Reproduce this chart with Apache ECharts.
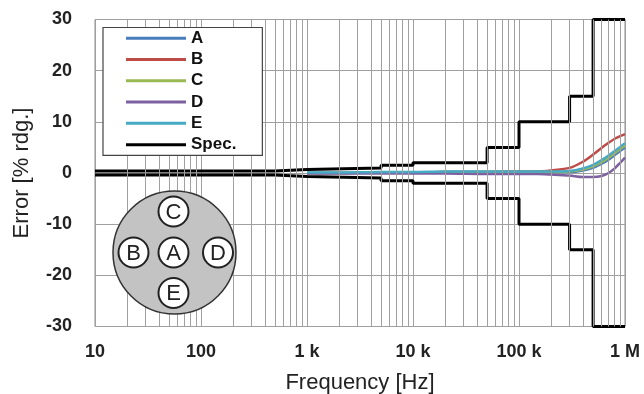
<!DOCTYPE html>
<html>
<head>
<meta charset="utf-8">
<script src="https://cdn.jsdelivr.net/npm/echarts@6/dist/echarts.min.js"></script>
<style>
html,body{margin:0;padding:0;background:#fff;}
#chart{width:644px;height:394px;}
</style>
</head>
<body>
<div id="chart"></div>
<script>
// ---- data ----
const frequencies = [1000, 2000, 5000, 10000, 20000, 50000, 100000, 150000, 200000, 300000, 400000, 500000, 600000, 700000, 800000, 900000, 1000000];
const seriesA = [0.0, 0.0, 0.1, 0.1, 0.2, 0.2, 0.2, 0.2, 0.2, 0.2, 0.5, 1.0, 1.8, 2.6, 3.5, 4.3, 5.0];
const seriesB = [0.0, 0.0, 0.1, 0.1, 0.2, 0.2, 0.3, 0.3, 0.5, 1.0, 2.2, 3.6, 4.9, 5.9, 6.7, 7.2, 7.6];
const seriesC = [0.0, 0.0, 0.1, 0.1, 0.2, 0.2, 0.2, 0.2, 0.2, 0.3, 0.7, 1.3, 2.1, 3.0, 3.9, 4.7, 5.4];
const seriesD = [-0.1, -0.1, -0.1, -0.1, -0.1, -0.2, -0.2, -0.2, -0.3, -0.5, -0.8, -0.8, -0.6, 0.0, 0.9, 2.0, 3.0];
const seriesE = [0.1, 0.1, 0.2, 0.2, 0.3, 0.3, 0.3, 0.3, 0.3, 0.4, 0.9, 1.6, 2.5, 3.4, 4.3, 5.1, 5.8];

const specFreq  = [10, 500, 500, 1000, 1000, 5000, 5000, 10000, 10000, 50000, 50000, 100000, 100000, 300000, 300000, 500000, 500000, 1000000];
const specUpper = [0.4, 0.4, 0.7, 0.7, 1, 1, 1.5, 1.5, 2, 2, 5, 5, 10, 10, 15, 15, 30, 30];
const specLower = [-0.4, -0.4, -0.7, -0.7, -1, -1, -1.5, -1.5, -2, -2, -5, -5, -10, -10, -15, -15, -30, -30];

const xTickValues = [10, 100, 1000, 10000, 100000, 1000000];
const xTickLabels = ['10', '100', '1 k', '10 k', '100 k', '1 M'];
const minorGridFreqs = [20, 30, 40, 50, 60, 70, 80, 90,
  200, 300, 400, 500, 600, 700, 800, 900,
  2000, 3000, 4000, 5000, 6000, 7000, 8000, 9000,
  20000, 30000, 40000, 50000, 60000, 70000, 80000, 90000,
  200000, 300000, 400000, 500000, 600000, 700000, 800000, 900000];

const seriesNames = ['A', 'B', 'C', 'D', 'E'];
const seriesColors = ['#4a7ebb', '#be4b48', '#98b954', '#7d60a0', '#46aac5'];
const seriesValues = [seriesA, seriesB, seriesC, seriesD, seriesE];

// ---- chart ----
const chart = echarts.init(document.getElementById('chart'), null, {renderer: 'canvas'});
const pair = (xs, ys) => xs.map((x, i) => [x, ys[i]]);
const FONT = '"Liberation Sans", Arial, sans-serif';

const series = [];
series.push({
  name: 'grid', type: 'line', data: [], z: 1, silent: true,
  markLine: {
    silent: true, symbol: 'none', animation: false,
    label: {show: false},
    lineStyle: {color: '#a0a0a0', width: 1, type: 'solid'},
    data: minorGridFreqs.map(v => ({xAxis: v}))
  }
});
seriesNames.forEach((n, i) => {
  series.push({
    name: n, type: 'line', data: pair(frequencies, seriesValues[i]),
    showSymbol: false, smooth: 0.3, z: 3,
    lineStyle: {color: seriesColors[i], width: 2.5},
    itemStyle: {color: seriesColors[i]}
  });
});
series.push({
  name: 'Spec.', type: 'line', data: pair(specFreq, specUpper), showSymbol: false, z: 4,
  lineStyle: {color: '#000', width: 3}, itemStyle: {color: '#000'}
});
series.push({
  name: 'Spec.', type: 'line', data: pair(specFreq, specLower), showSymbol: false, z: 4,
  lineStyle: {color: '#000', width: 3}, itemStyle: {color: '#000'}
});

const option = {
  animation: false,
  backgroundColor: '#fff',
  grid: {left: 95, right: 19, top: 19.5, bottom: 67.5, show: true, borderColor: '#8c8c8c', borderWidth: 1, z: 0,
    containLabel: false, outerBoundsMode: 'none'},
  legend: {
    data: ['A', 'B', 'C', 'D', 'E', 'Spec.'],
    orient: 'vertical', left: 103, top: 27.5,
    icon: 'rect', itemWidth: 60, itemHeight: 3, itemGap: 0,
    padding: [0, 26, 0, 23],
    backgroundColor: '#fff', borderColor: '#444', borderWidth: 1.2,
    textStyle: {fontFamily: FONT, fontSize: 17, fontWeight: 'bold', color: '#111', lineHeight: 21.3},
    z: 6
  },
  xAxis: {
    type: 'log', logBase: 10, min: 10, max: 1000000, splitNumber: 5,
    name: 'Frequency [Hz]', nameLocation: 'middle', nameGap: 45,
    nameTextStyle: {fontFamily: FONT, fontSize: 22, color: '#222'},
    axisLine: {show: false}, axisTick: {show: false},
    axisLabel: {fontFamily: FONT, fontSize: 18, fontWeight: 'bold', color: '#222', margin: 17,
      formatter: v => { const i = xTickValues.findIndex(t => Math.abs(t - v) / t < 1e-6); return i >= 0 ? xTickLabels[i] : ''; }},
    splitLine: {show: true, lineStyle: {color: '#a0a0a0', width: 1}}
  },
  yAxis: {
    type: 'value', min: -30, max: 30, interval: 10,
    name: 'Error [% rdg.]', nameLocation: 'middle', nameGap: 62,
    nameTextStyle: {fontFamily: FONT, fontSize: 22, color: '#222'},
    axisLine: {show: false}, axisTick: {show: false},
    axisLabel: {fontFamily: FONT, fontSize: 18, fontWeight: 'bold', color: '#222', margin: 23},
    splitLine: {show: true, lineStyle: {color: '#a0a0a0', width: 1}}
  },
  graphic: [
    {type: 'circle', shape: {cx: 174.5, cy: 252.5, r: 61.5}, style: {fill: '#c3c3c3', stroke: '#333', lineWidth: 1.5}, z: 10},
    ...[['C', 173.5, 211.5], ['B', 133.5, 252.5], ['A', 173.5, 252.5], ['D', 218, 252.5], ['E', 173.5, 293]].flatMap(([t, x, y]) => [
      {type: 'circle', shape: {cx: x, cy: y, r: 15}, style: {fill: '#fff', stroke: '#222', lineWidth: 2}, z: 11},
      {type: 'text', x: x, y: y + 1, style: {text: t, fontFamily: FONT, fontSize: 22, fill: '#222', textAlign: 'center', textVerticalAlign: 'middle'}, z: 12}
    ])
  ],
  series: series
};
chart.setOption(option);
</script>
</body>
</html>
